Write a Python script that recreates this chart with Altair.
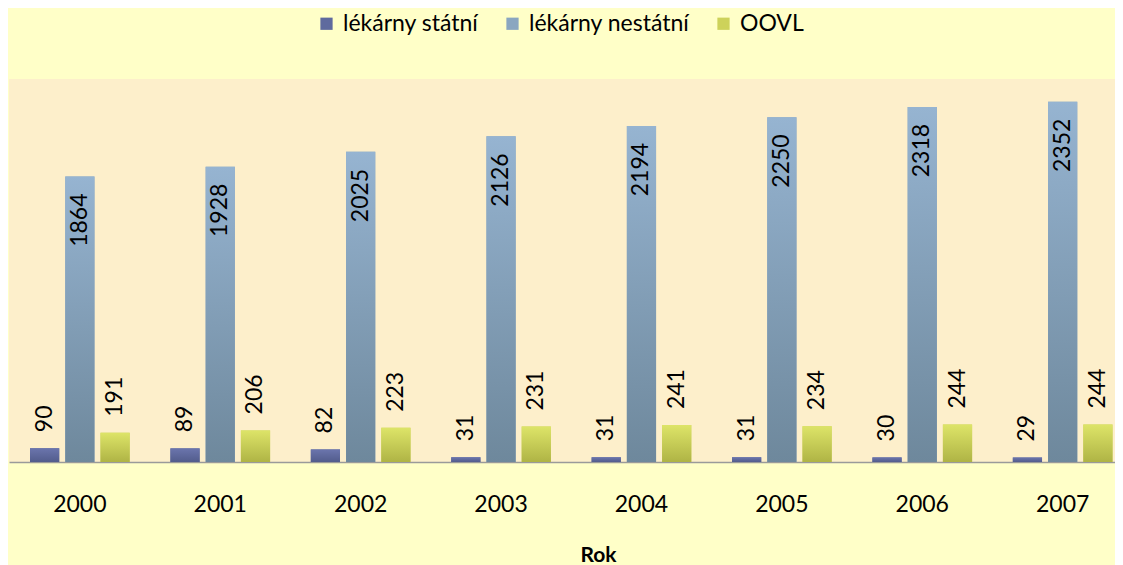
import altair as alt
import pandas as pd

years = ["2000", "2001", "2002", "2003", "2004", "2005", "2006", "2007"]
series = ["lékárny státní", "lékárny nestátní", "OOVL"]
statni = [90, 89, 82, 31, 31, 31, 30, 29]
nestatni = [1864, 1928, 2025, 2126, 2194, 2250, 2318, 2352]
oovl = [191, 206, 223, 231, 241, 234, 244, 244]

rows = []
for i, yr in enumerate(years):
    for s, vals in zip(series, [statni, nestatni, oovl]):
        rows.append({"Rok": yr, "serie": s, "pocet": vals[i]})
df = pd.DataFrame(rows)

FONT = "Lato"

x_enc = alt.X(
    "Rok:N",
    sort=years,
    scale=alt.Scale(paddingInner=0.29, paddingOuter=0.0837, align=0.894),
    axis=alt.Axis(
        title="Rok",
        labelAngle=0,
        ticks=False,
        domainColor="#9A9A9A",
        domainWidth=1.5,
        labelFontSize=23,
        labelColor="#000000",
        labelFont=FONT,
        labelPadding=31,
        titleFontSize=21,
        titleFont=FONT,
        titleFontWeight="bold",
        titleColor="#000000",
        titlePadding=28,
        titleX=589,
        titleAnchor="middle",
    ),
)
xo_enc = alt.XOffset("serie:N", sort=series,
                     scale=alt.Scale(domain=series, paddingInner=0.171))
y_enc = alt.Y("pocet:Q", scale=alt.Scale(domain=[0, 2500]), axis=None)

base = alt.Chart(df).encode(x=x_enc, xOffset=xo_enc, y=y_enc)

legend_bars = base.mark_bar().encode(
    color=alt.Color(
        "serie:N",
        sort=series,
        scale=alt.Scale(domain=series, range=["#5F6A9E", "#8AA6C0", "#CDD25A"]),
        legend=alt.Legend(
            title=None,
            orient="none",
            legendX=306,
            legendY=-67,
            direction="horizontal",
            symbolType="square",
            symbolSize=150,
            symbolStrokeWidth=0,
            labelFontSize=23,
            labelFont=FONT,
            labelColor="#000000",
            labelOffset=5,
            labelLimit=400,
            columnPadding=22,
        ),
    )
)


def grad(top, bottom):
    return alt.LinearGradient(
        gradient="linear",
        stops=[alt.GradientStop(color=top, offset=0),
               alt.GradientStop(color=bottom, offset=1)],
        x1=0, x2=0, y1=0, y2=1,
    )


grads = {
    "lékárny státní": ("#6B75AD", "#525C8C"),
    "lékárny nestátní": ("#96B4D1", "#6E889C"),
    "OOVL": ("#DDE468", "#AFB445"),
}

grad_layers = []
for s in series:
    top, bottom = grads[s]
    grad_layers.append(
        base.transform_filter(alt.datum.serie == s).mark_bar(color=grad(top, bottom))
    )

text_inside = base.transform_filter(alt.datum.serie == "lékárny nestátní").mark_text(
    angle=270, align="right", baseline="middle", dx=-17, fontSize=23, font=FONT, color="#000000"
).encode(text="pocet:Q")

text_outside = base.transform_filter(alt.datum.serie != "lékárny nestátní").mark_text(
    angle=270, align="left", baseline="middle", dx=16, fontSize=23, font=FONT, color="#000000"
).encode(text="pocet:Q")

chart = alt.layer(legend_bars, *grad_layers, text_inside, text_outside).properties(
    width=1106,
    height=383,
    padding={"left": 1, "top": 71, "right": 0, "bottom": 103},
    autosize=alt.AutoSizeParams(type="none"),
    background="#FFFFC8",
).configure_view(fill="#FDEFCB", stroke=None)

chart.save("out.html", embed_options={"renderer": "svg", "actions": False})
